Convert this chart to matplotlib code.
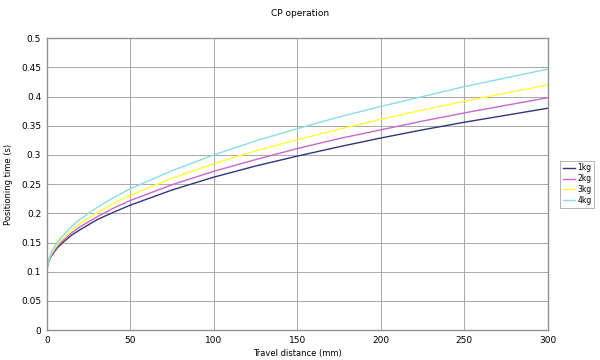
import matplotlib
matplotlib.use("Agg")
from matplotlib import pyplot as plt

# ---- data ----
distance = [0, 0.5, 1, 2, 3, 5, 7, 10, 15, 20, 30, 40, 50, 75, 100, 125, 150, 175, 200, 225, 250, 275, 300]

time_1kg = [0.1, 0.111, 0.116, 0.123, 0.128, 0.136, 0.143, 0.151, 0.163, 0.172, 0.189, 0.202, 0.214, 0.240,
            0.262, 0.281, 0.298, 0.314, 0.329, 0.343, 0.356, 0.368, 0.380]
time_2kg = [0.1, 0.112, 0.117, 0.124, 0.130, 0.138, 0.146, 0.154, 0.167, 0.177, 0.194, 0.209, 0.222, 0.249,
            0.272, 0.292, 0.311, 0.328, 0.343, 0.358, 0.372, 0.385, 0.398]
time_3kg = [0.1, 0.113, 0.118, 0.126, 0.132, 0.141, 0.149, 0.158, 0.172, 0.183, 0.201, 0.217, 0.231, 0.260,
            0.285, 0.307, 0.326, 0.344, 0.361, 0.377, 0.392, 0.406, 0.420]
time_4kg = [0.1, 0.114, 0.120, 0.128, 0.135, 0.145, 0.153, 0.163, 0.178, 0.190, 0.210, 0.227, 0.242, 0.273,
            0.300, 0.324, 0.345, 0.365, 0.383, 0.400, 0.417, 0.432, 0.447]

labels = ['1kg', '2kg', '3kg', '4kg']
colors = ['#333380', '#cc66cc', '#ffff33', '#88dde8']

fig = plt.figure(figsize=(6, 3.6), dpi=100)
ax = fig.add_axes([0.078, 0.083, 0.835, 0.811])

for series, label, color in zip([time_1kg, time_2kg, time_3kg, time_4kg], labels, colors):
    ax.plot(distance, series, color=color, lw=1.0, label=label)

ax.set_xlim(0, 300)
ax.set_ylim(0, 0.5)
ax.set_xticks(range(0, 301, 50))
ax.set_yticks([i * 0.05 for i in range(11)])
ax.set_yticklabels(['0', '0.05', '0.1', '0.15', '0.2', '0.25', '0.3', '0.35', '0.4', '0.45', '0.5'])
ax.grid(True, color='#a8a8a8', lw=0.7)
ax.set_axisbelow(True)
ax.tick_params(length=0, labelsize=6.5, pad=4)
for s in ax.spines.values():
    s.set_color('#909090')
    s.set_linewidth(1.0)

ax.set_xlabel('Travel distance (mm)', fontsize=6, labelpad=3)
ax.set_ylabel('Positioning time (s)', fontsize=6, labelpad=6)
fig.text(0.5, 0.963, 'CP operation', ha='center', va='center', fontsize=6.5)

leg = ax.legend(loc='center left', bbox_to_anchor=(1.02, 0.5), fontsize=5.5, frameon=True,
                fancybox=False, handlelength=1.6, handletextpad=0.3, borderpad=0.35,
                labelspacing=0.25, borderaxespad=0.3)
leg.get_frame().set_edgecolor('#a0a0a0')
leg.get_frame().set_linewidth(0.7)

fig.savefig('out.png', dpi=100)
